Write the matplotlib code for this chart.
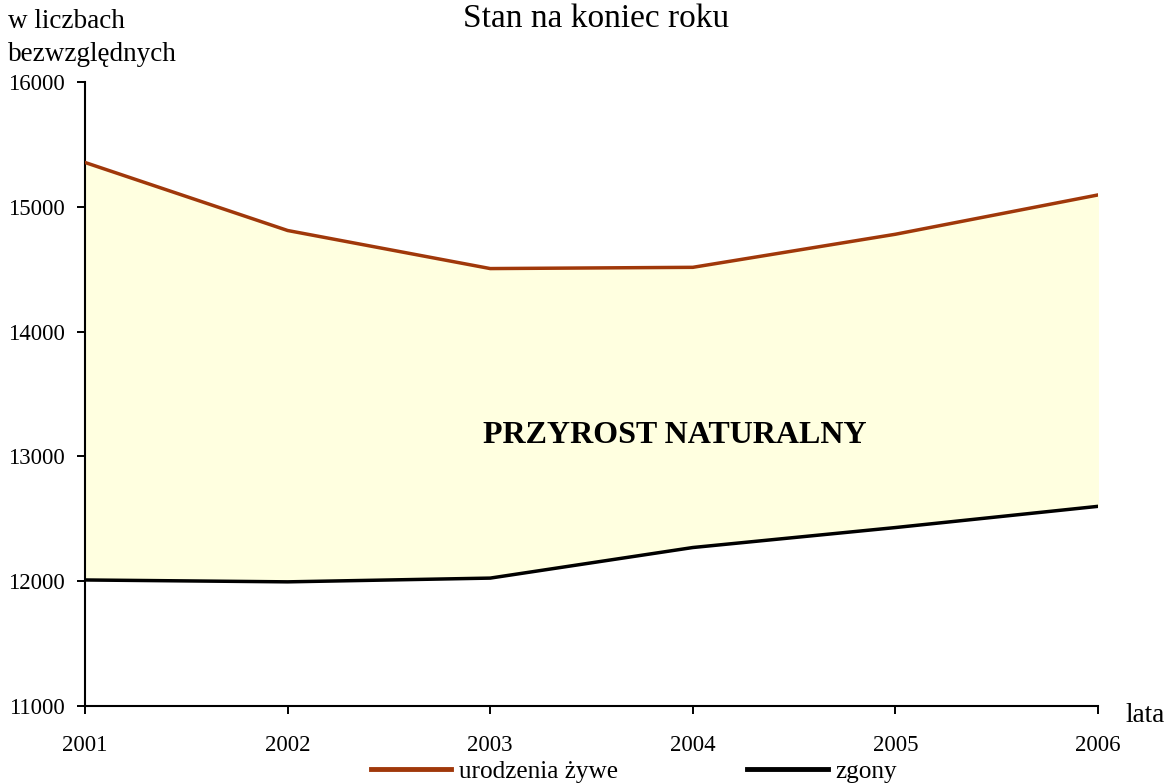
import matplotlib.pyplot as plt

lata = [2001, 2002, 2003, 2004, 2005, 2006]
urodzenia = [15355, 14810, 14505, 14515, 14780, 15095]
zgony = [12010, 11995, 12025, 12270, 12430, 12600]
y_ticks = [11000, 12000, 13000, 14000, 15000, 16000]

plt.rcParams['font.family'] = ['Liberation Serif', 'DejaVu Serif']

fig = plt.figure(figsize=(11.65, 7.83), dpi=100)
ax = fig.add_axes([0.073, 0.0983, 0.8695, 0.797])

ax.fill_between(lata, zgony, urodzenia, color='#FFFFE0', zorder=1)
l1, = ax.plot(lata, urodzenia, color='#A0380A', lw=2.5, zorder=3)
l2, = ax.plot(lata, zgony, color='black', lw=2.5, zorder=3)

ax.set_xlim(lata[0], lata[-1])
ax.set_ylim(11000, 16000)
ax.set_xticks(lata)
ax.set_yticks(y_ticks)
ax.tick_params(axis='both', labelsize=16.5, width=1.4, length=6, direction='out')
ax.tick_params(axis='x', pad=15)
ax.tick_params(axis='y', pad=8.5)
for s in ['top', 'right']:
    ax.spines[s].set_visible(False)
for s in ['left', 'bottom']:
    ax.spines[s].set_linewidth(1.5)

ax.text(0.5823, 0.433, 'PRZYROST NATURALNY', transform=ax.transAxes,
        ha='center', va='center', fontsize=23, fontweight='bold')

fig.text(0.512, 0.976, 'Stan na koniec roku', ha='center', va='center', fontsize=24)
fig.text(0.007, 0.972, 'w liczbach', ha='left', va='center', fontsize=19.5)
fig.text(0.007, 0.93, 'bezwzględnych', ha='left', va='center', fontsize=19.5)
fig.text(0.9657, 0.0856, 'lata', ha='left', va='center', fontsize=19.5)

fig.legend([l1, l2], ['urodzenia żywe', 'zgony'], ncol=2, loc='center',
           bbox_to_anchor=(0.544, 0.015), frameon=False, fontsize=18.2,
           handlelength=3.2, handletextpad=0.3, columnspacing=5.1)
for h in fig.legends[0].get_lines():
    h.set_linewidth(3.5)

fig.savefig('out.png', dpi=100)
